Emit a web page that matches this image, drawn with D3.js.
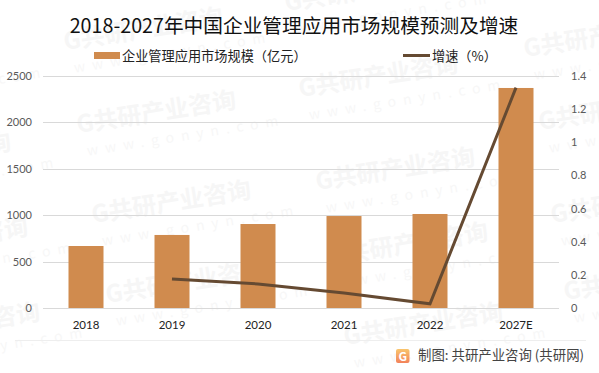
<!DOCTYPE html>
<html lang="en">
<head>
<meta charset="UTF-8">
<title>中国企业管理应用市场规模预测及增速</title>
<script src="https://d3js.org/d3.v7.min.js"></script>
<style>
    html, body { margin: 0; padding: 0; background: #fff; }
    svg { display: block; }
    text { font-family: "Noto Sans CJK SC", "Noto Sans", sans-serif; }
    .tick text { font-family: Lato, "Noto Sans", sans-serif; font-size: 11px; }
</style>
</head>
<body>
<svg id="canvas" width="599" height="373"></svg>
<script>
    const years = ["2018", "2019", "2020", "2021", "2022", "2027E"];
    const marketSize = [668, 787, 905, 991, 1013, 2371];
    const growth = [null, 0.175, 0.145, 0.09, 0.025, 1.33];
    const leftTicks = [0, 500, 1000, 1500, 2000, 2500];
    const rightTicks = [0, 0.2, 0.4, 0.6, 0.8, 1, 1.2, 1.4];
    // watermark anchors (some hang off the edge like the original)
    const markX = [-160, -147, -130, -118, 65, 78, 93, 107, 286, 300, 317, 330, 345, 525, 540, 552, 565];
    const markY = [85, 175, 260, 345, 50, 133, 223, 303, 11, 97, 190, 265, 345, 57, 130, 223, 300];

    const width = 599, height = 373;
    const margin = {top: 76, right: 40, bottom: 65, left: 43};
    const svg = d3.select("#canvas");

    const logoFill = svg.append("defs").append("linearGradient")
        .attr("id", "logoFill")
        .attr("x1", 0).attr("y1", 0).attr("x2", 0).attr("y2", 1);
    logoFill.append("stop").attr("offset", 0).attr("stop-color", "#f9c56c");
    logoFill.append("stop").attr("offset", 1).attr("stop-color", "#f2825a");

    // watermark goes under everything
    const marks = svg.append("g").selectAll("g")
        .data(markX.map((x, i) => [x, markY[i]]))
        .join("g")
        .attr("transform", d => `translate(${d[0]},${d[1]}) rotate(-9)`);
    marks.append("text")
        .attr("font-size", 24).attr("font-weight", 700)
        .attr("fill", "#f6f6f6")
        .text("G共研产业咨询");
    marks.append("text")
        .attr("y", 24).attr("x", 6)
        .attr("font-size", 14)
        .attr("letter-spacing", 7)
        .attr("fill", "#f7f7f7")
        .text("www.gonyn.com");

    const x = d3.scaleBand().domain(years)
        .range([margin.left, width - margin.right]);
    const yLeft = d3.scaleLinear().domain([0, 2500])
        .range([height - margin.bottom, margin.top]);
    const yRight = d3.scaleLinear().domain([0, 1.4])
        .range([height - margin.bottom, margin.top]);

    // gridlines
    svg.append("g").selectAll("line")
        .data(leftTicks)
        .join("line")
        .attr("x1", margin.left).attr("x2", width - margin.right)
        .attr("y1", d => Math.round(yLeft(d)) + 0.5).attr("y2", d => Math.round(yLeft(d)) + 0.5)
        .attr("stroke", "#d9d9d9");

    svg.append("g").selectAll("rect")
        .data(years)
        .join("rect")
        .attr("x", d => x(d) + x.bandwidth() / 2 - 17.5)
        .attr("width", 35)
        .attr("y", (d, i) => yLeft(marketSize[i]))
        .attr("height", (d, i) => yLeft(0) - yLeft(marketSize[i]))
        .attr("fill", "#d08b4e");

    const line = d3.line()
        .defined(d => d[1] !== null)
        .x(d => x(d[0]) + x.bandwidth() / 2)
        .y(d => yRight(d[1]));
    svg.append("path")
        .attr("d", line(years.map((d, i) => [d, growth[i]])))
        .attr("fill", "none")
        .attr("stroke", "#654a32")
        .attr("stroke-width", 3);

    // axes
    const axisLeft = svg.append("g")
        .attr("transform", `translate(${margin.left},0)`)
        .call(d3.axisLeft(yLeft).tickValues(leftTicks).tickFormat(d => d).tickSize(0).tickPadding(11));
    axisLeft.select(".domain").remove();
    axisLeft.selectAll("text").attr("fill", "#595959");

    const axisRight = svg.append("g")
        .attr("transform", `translate(${width - margin.right},0)`)
        .call(d3.axisRight(yRight).tickValues(rightTicks).tickFormat(d => d).tickSize(0).tickPadding(12));
    axisRight.select(".domain").remove();
    axisRight.selectAll("text").attr("fill", "#595959");

    const axisBottom = svg.append("g")
        .attr("transform", `translate(0,${height - margin.bottom})`)
        .call(d3.axisBottom(x).tickSize(0).tickPadding(13));
    axisBottom.select(".domain").remove();
    axisBottom.selectAll("text").attr("fill", "#222").style("font-size", "11.5px");

    // title
    svg.append("text")
        .attr("x", 294).attr("y", 33)
        .attr("text-anchor", "middle")
        .attr("font-size", 19.7)
        .attr("fill", "#111")
        .text("2018-2027年中国企业管理应用市场规模预测及增速");

    // legend
    svg.append("rect")
        .attr("x", 94).attr("y", 52).attr("width", 26).attr("height", 7)
        .attr("fill", "#d08b4e");
    svg.append("text")
        .attr("x", 122).attr("y", 61).attr("font-size", 13.2).attr("fill", "#222")
        .text("企业管理应用市场规模（亿元）");
    svg.append("line")
        .attr("x1", 403).attr("x2", 430).attr("y1", 55.5).attr("y2", 55.5)
        .attr("stroke", "#654a32").attr("stroke-width", 3);
    svg.append("text")
        .attr("x", 432).attr("y", 61).attr("font-size", 13.2).attr("fill", "#222")
        .text("增速（%）");

    // footer
    svg.append("line")
        .attr("x1", 15).attr("x2", 586).attr("y1", 340.5).attr("y2", 340.5)
        .attr("stroke", "#eeeeee");
    svg.append("rect")
        .attr("x", 396).attr("y", 349).attr("width", 13.5).attr("height", 14).attr("rx", 2)
        .attr("fill", "url(#logoFill)");
    svg.append("text")
        .attr("x", 402.8).attr("y", 360.5).attr("text-anchor", "middle")
        .attr("font-size", 12).attr("font-weight", 700).attr("fill", "#fff")
        .text("G");
    svg.append("text")
        .attr("x", 418).attr("y", 359.5).attr("font-size", 13.4).attr("fill", "#444")
        .text("制图: 共研产业咨询 (共研网)");
</script>
</body>
</html>
